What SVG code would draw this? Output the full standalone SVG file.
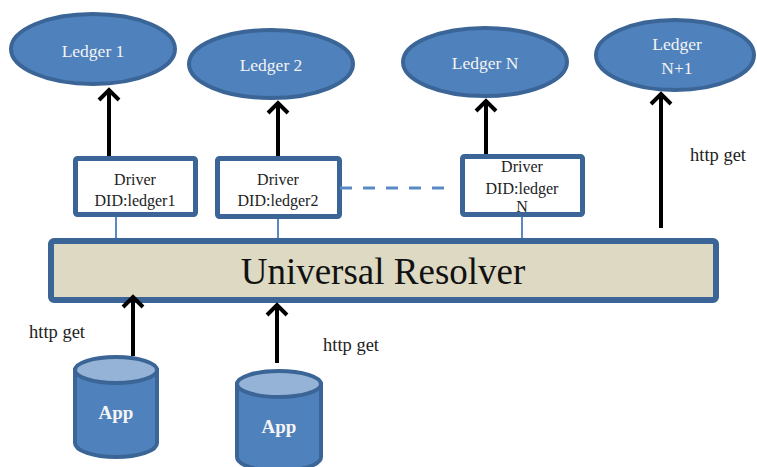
<svg xmlns="http://www.w3.org/2000/svg" width="757" height="467" viewBox="0 0 757 467">
  <defs>
    <style>
      .ledger { fill: #4f81bd; stroke: #3a6596; stroke-width: 4; }
      .ltext { font-family: "Liberation Serif", "Times New Roman", serif; font-size: 17.5px; fill: #f4f4f4; text-anchor: middle; }
      .driver { fill: #ffffff; stroke: #3a6596; stroke-width: 5; }
      .dtext { font-family: "Liberation Serif", "Times New Roman", serif; font-size: 16px; fill: #222222; text-anchor: middle; }
      .resolver { fill: #ddd9c3; stroke: #3a6596; stroke-width: 6; }
      .rtext { font-family: "Liberation Serif", "Times New Roman", serif; font-size: 37px; fill: #111111; text-anchor: middle; }
      .arrow { stroke: #000000; stroke-width: 4; fill: none; marker-end: url(#chevron); }
      .link { stroke: #5a8ac6; stroke-width: 2; fill: none; }
      .dash { stroke: #5a8ac6; stroke-width: 3; fill: none; stroke-dasharray: 12 11; }
      .label { font-family: "Liberation Serif", "Times New Roman", serif; font-size: 18.5px; fill: #222222; }
      .can { fill: #4f81bd; stroke: #3a6596; stroke-width: 4; }
      .cantop { fill: #95b3d7; stroke: #3a6596; stroke-width: 4; }
      .atext { font-family: "Liberation Serif", "Times New Roman", serif; font-size: 19px; font-weight: bold; fill: #f4f4f4; text-anchor: middle; }
    </style>
    <!-- open chevron head, drawn in user units so all arrows share one size -->
    <marker id="chevron" viewBox="0 0 20 24" refX="17" refY="12" markerWidth="20" markerHeight="24" markerUnits="userSpaceOnUse" orient="auto">
      <path d="M6,2 L16,12 L6,22" fill="none" stroke="#000000" stroke-width="4" stroke-linecap="butt" stroke-linejoin="miter"/>
    </marker>
  </defs>

  <!-- ledgers -->
  <g id="ledger1">
    <ellipse class="ledger" cx="93" cy="49" rx="82" ry="35"/>
    <text class="ltext" x="93" y="57">Ledger 1</text>
  </g>
  <g id="ledger2">
    <ellipse class="ledger" cx="271" cy="64" rx="82" ry="34"/>
    <text class="ltext" x="271" y="71">Ledger 2</text>
  </g>
  <g id="ledgerN">
    <ellipse class="ledger" cx="485" cy="62" rx="82" ry="34"/>
    <text class="ltext" x="485" y="69">Ledger N</text>
  </g>
  <g id="ledgerN1">
    <ellipse class="ledger" cx="675" cy="55" rx="79" ry="35"/>
    <text class="ltext" x="677" y="50">Ledger</text>
    <text class="ltext" x="677" y="74">N+1</text>
  </g>

  <!-- drivers -->
  <g id="driver1">
    <rect class="driver" x="75.5" y="158.5" width="120" height="56" rx="2"/>
    <text class="dtext" x="135" y="185">Driver</text>
    <text class="dtext" x="135" y="206">DID:ledger1</text>
  </g>
  <g id="driver2">
    <rect class="driver" x="217.5" y="158.5" width="122" height="58" rx="2"/>
    <text class="dtext" x="278" y="185">Driver</text>
    <text class="dtext" x="278" y="206">DID:ledger2</text>
  </g>
  <g id="driverN">
    <rect class="driver" x="462.5" y="156.5" width="120" height="58" rx="2"/>
    <text class="dtext" x="522" y="172">Driver</text>
    <text class="dtext" x="522" y="194">DID:ledger</text>
    <text class="dtext" x="522" y="212">N</text>
  </g>

  <!-- resolver -->
  <g id="resolver">
    <rect class="resolver" x="51" y="241" width="665" height="59" rx="3"/>
    <text class="rtext" x="383" y="284">Universal Resolver</text>
  </g>

  <!-- client apps -->
  <g id="app1">
    <path class="can" d="M75,370 L75,443 A41,14 0 0 0 157,443 L157,370 Z"/>
    <ellipse class="cantop" cx="116" cy="370" rx="41" ry="13"/>
    <text class="atext" x="116" y="419">App</text>
  </g>
  <g id="app2">
    <path class="can" d="M237,384 L237,457 A42,14 0 0 0 321,457 L321,384 Z"/>
    <ellipse class="cantop" cx="279" cy="384" rx="42" ry="13"/>
    <text class="atext" x="279" y="433">App</text>
  </g>

  <!-- connectors -->
  <g id="connectors">
    <line class="arrow" x1="109" y1="156" x2="109" y2="89"/>
    <line class="arrow" x1="278" y1="156" x2="278" y2="102"/>
    <line class="arrow" x1="486" y1="154" x2="486" y2="100"/>
    <line class="arrow" x1="661" y1="228" x2="661" y2="93"/>
    <line class="arrow" x1="133" y1="356" x2="133" y2="296"/>
    <line class="arrow" x1="277" y1="363" x2="277" y2="304"/>
    <line class="link" x1="116" y1="217" x2="116" y2="238"/>
    <line class="link" x1="278" y1="219" x2="278" y2="238"/>
    <line class="link" x1="522" y1="217" x2="522" y2="238"/>
    <line class="dash" x1="340" y1="188" x2="446" y2="188"/>
  </g>

  <!-- request labels -->
  <text class="label" x="29" y="338">http get</text>
  <text class="label" x="323" y="351">http get</text>
  <text class="label" x="690" y="161">http get</text>
</svg>
